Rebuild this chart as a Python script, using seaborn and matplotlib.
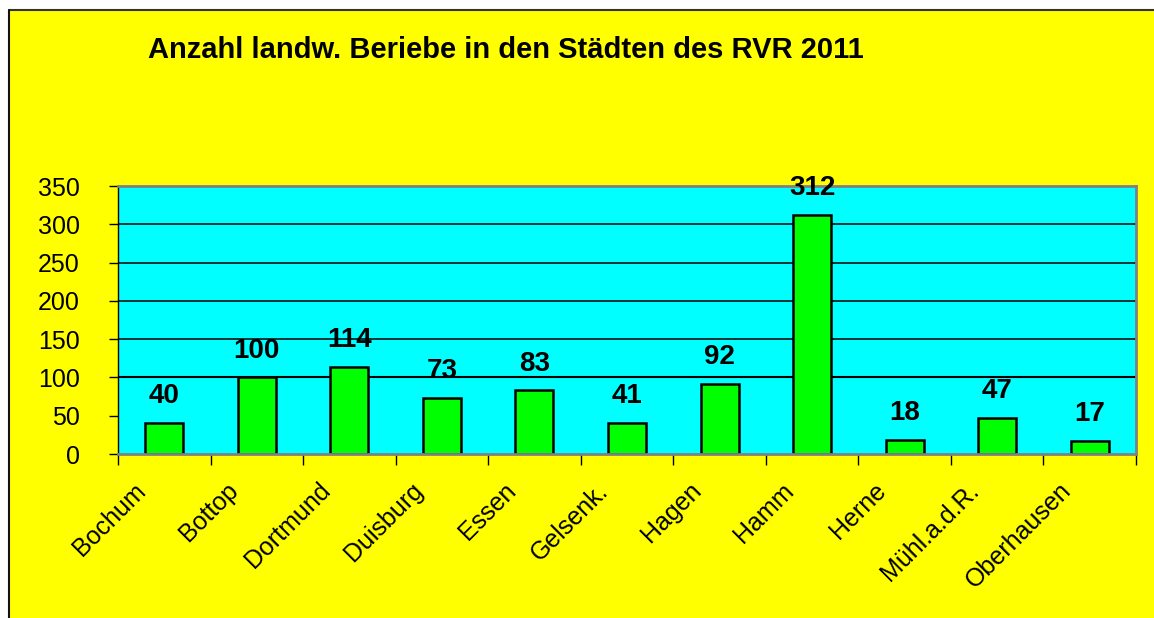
import matplotlib
matplotlib.use("Agg")
import matplotlib.pyplot as plt
from matplotlib.patches import Rectangle
from matplotlib.lines import Line2D
from matplotlib.transforms import ScaledTranslation
import seaborn as sns
import numpy as np

cities = ["Bochum", "Bottop", "Dortmund", "Duisburg", "Essen", "Gelsenk.",
          "Hagen", "Hamm", "Herne", "Mühl.a.d.R.", "Oberhausen"]
counts = [40, 100, 114, 73, 83, 41, 92, 312, 18, 47, 17]
y_ticks = [0, 50, 100, 150, 200, 250, 300, 350]
grid_values = [100, 150, 200, 250, 300]
title = "Anzahl landw. Beriebe in den Städten des RVR 2011"

sns.set_theme(style="white")
plt.rcParams['font.family'] = ['Liberation Sans', 'DejaVu Sans']

W, H = 1154, 618
fig = plt.figure(figsize=(W / 100, H / 100), dpi=100, facecolor='white')
bg = Rectangle((9 / W, 0), 1 - 9 / W, 1 - 10 / H, transform=fig.transFigure,
               facecolor='#ffff00', edgecolor='none', zorder=-10)
fig.add_artist(bg)
fig.add_artist(Line2D([9 / W, 1], [1 - 10 / H, 1 - 10 / H], color='#333333', lw=1.5, zorder=-5))
fig.add_artist(Line2D([9 / W, 9 / W], [0, 1 - 10 / H], color='#111111', lw=1.5, zorder=-5))

ax = fig.add_axes([118 / W, (H - 454) / H, (1136 - 118) / W, (454 - 186) / H])
ax.set_facecolor('#00ffff')

for g in grid_values:
    ax.axhline(g, color='black', lw=1.5 if g == 100 else 1.1, zorder=0.5)

sns.barplot(x=cities, y=counts, color='#00ff00', saturation=1, edgecolor='black',
            linewidth=1.8, width=0.41, ax=ax, zorder=2)

for i, v in enumerate(counts):
    ax.annotate(str(v), (i, v), xytext=(0, 10), textcoords='offset points',
                ha='center', va='bottom', fontsize=20, fontweight='bold', color='black')

ax.set_xlim(-0.5, len(cities) - 0.5)
ax.set_ylim(0, 350)
ax.set_yticks(y_ticks)
ax.set_yticklabels([str(t) for t in y_ticks], fontsize=18, color='black')
ax.tick_params(axis='y', left=True, length=6.5, width=1, color='black', pad=21)

ax.set_xticks(range(len(cities)))
ax.set_xticklabels(cities, rotation=45, ha='right', va='top', rotation_mode='anchor',
                   fontsize=18, color='black')
ax.set_xticks(np.arange(-0.5, len(cities), 1), minor=True)
ax.tick_params(axis='x', which='major', length=0, pad=14)
ax.tick_params(axis='x', which='minor', bottom=True, length=8, width=1, color='black')
shift = ScaledTranslation(-31 / 100, -5 / 100, fig.dpi_scale_trans)
for lab in ax.get_xticklabels():
    lab.set_transform(lab.get_transform() + shift)
ax.set_xlabel('')
ax.set_ylabel('')

for s in ['top', 'right', 'bottom']:
    ax.spines[s].set_color('#808080')
    ax.spines[s].set_linewidth(2)
ax.spines['left'].set_color('black')
ax.spines['left'].set_linewidth(1)

fig.text(148 / W, 1 - 50 / H, title, ha='left', va='center', fontsize=21,
         fontweight='bold', color='black')

fig.savefig('out.png', dpi=100, facecolor='white')
